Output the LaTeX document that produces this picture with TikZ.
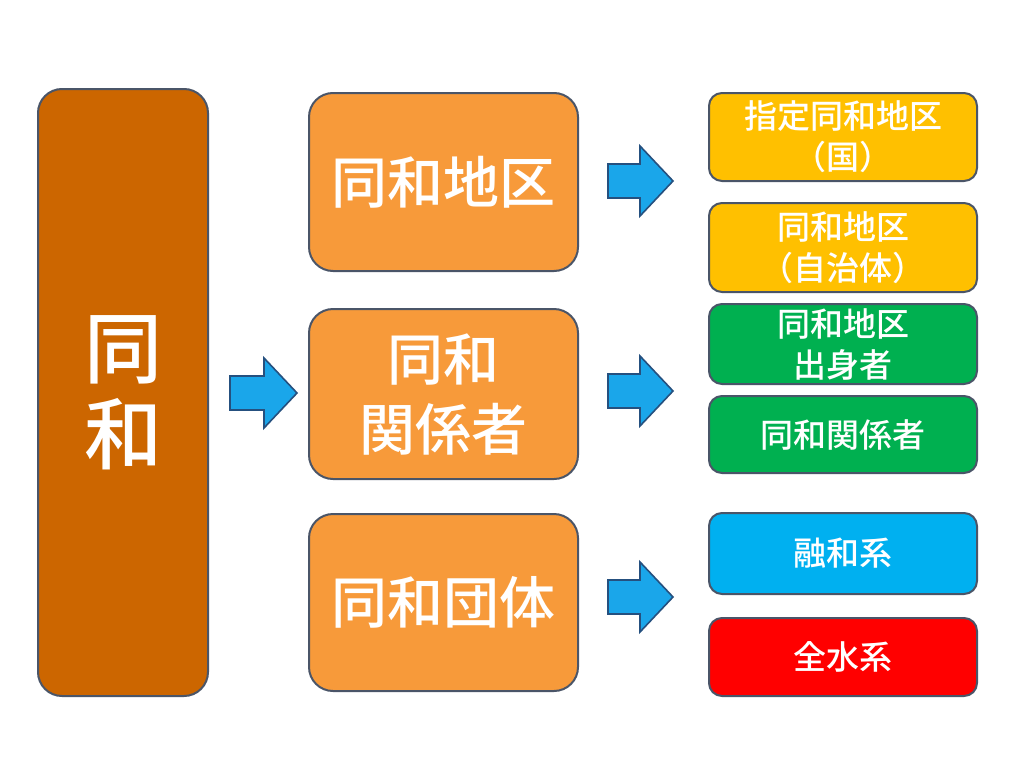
\documentclass[tikz,border=0pt]{standalone}
\usepackage{fontspec}
\newfontfamily\cjk{Noto Sans CJK JP}[UprightFont={* Medium}]
\usetikzlibrary{positioning}
\definecolor{brownbox}{HTML}{CC6600}
\definecolor{orangebox}{HTML}{F79A3A}
\definecolor{yellowbox}{HTML}{FFC000}
\definecolor{greenbox}{HTML}{00B050}
\definecolor{bluebox}{HTML}{00B0F0}
\definecolor{redbox}{HTML}{FF0000}
\definecolor{edgegray}{HTML}{4A5568}
\definecolor{arrowfill}{HTML}{1AA6EA}
\definecolor{arrowedge}{HTML}{25507F}
\tikzset{
  box/.style={draw=edgegray, line width=2pt, text=white, align=center, anchor=north west, inner sep=0pt},
  bigbox/.style={box, fill=brownbox, rounded corners=24pt, font=\cjk\fontsize{78}{86}\selectfont},
  midbox/.style={box, fill=orangebox, rounded corners=24pt, font=\cjk\fontsize{56}{70}\selectfont},
  smallbox/.style={box, rounded corners=13pt, font=\cjk\fontsize{33}{41}\selectfont},
  blockarrow/.style={fill=arrowfill, draw=arrowedge, line width=1.6pt, line join=miter}
}
\newcommand{\blockarr}[2]{% #1 = start coordinate name (left middle), #2 = tip coordinate name
  \draw[blockarrow] ([yshift=17pt]#1) -- ([xshift=-33pt,yshift=17pt]#2) -- ([xshift=-33pt,yshift=35pt]#2) -- (#2) -- ([xshift=-33pt,yshift=-35pt]#2) -- ([xshift=-33pt,yshift=-17pt]#2) -- ([yshift=-17pt]#1) -- cycle;}
\begin{document}
\begin{tikzpicture}[x=1pt,y=-1pt]
\useasboundingbox (0,0) rectangle (1024,760);
\fill[white] (0,0) rectangle (1024,760);
% left big box
\node[bigbox, minimum width=170pt, minimum height=607pt] (dowa) at (37,88) {同\\和};
% middle boxes
\node[midbox, minimum width=269pt, minimum height=178pt] (chiku) at (308,92) {同和地区};
\node[midbox, minimum width=269pt, minimum height=170pt] (kankei) at (308,308) {同和\\関係者};
\node[midbox, minimum width=269pt, minimum height=177pt] (dantai) at (308,513) {同和団体};
% right boxes
\node[smallbox, fill=yellowbox, minimum width=268pt, minimum height=88pt] (shitei) at (708,92) {指定同和地区\\（国）};
\node[smallbox, fill=yellowbox, minimum width=268pt, minimum height=89pt] (jichitai) at (708,202) {同和地区\\（自治体）};
\node[smallbox, fill=greenbox, minimum width=268pt, minimum height=80pt] (shusshin) at (708,303) {同和地区\\出身者};
\node[smallbox, fill=greenbox, minimum width=268pt, minimum height=77pt] (kankeisha) at (708,395) {同和関係者};
\node[smallbox, fill=bluebox, minimum width=268pt, minimum height=81pt] (yuwa) at (708,512) {融和系};
\node[smallbox, fill=redbox, minimum width=268pt, minimum height=78pt] (zensui) at (708,617) {全水系};
% arrow coordinates
\coordinate (a0s) at (230,393);
\coordinate (a0t) at (297,393);
\coordinate (a1s) at (608,181);
\coordinate (a1t) at (673,181);
\coordinate (a2s) at (608,391);
\coordinate (a2t) at (673,391);
\coordinate (a3s) at (608,597);
\coordinate (a3t) at (673,597);
\blockarr{a0s}{a0t}
\blockarr{a1s}{a1t}
\blockarr{a2s}{a2t}
\blockarr{a3s}{a3t}
\end{tikzpicture}
\end{document}
